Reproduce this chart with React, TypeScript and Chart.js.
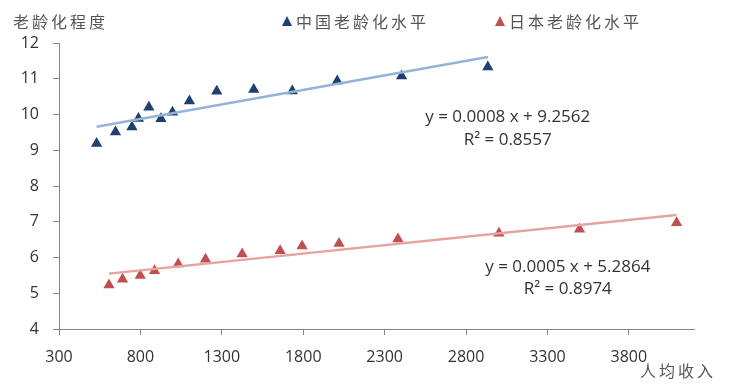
import React, { useEffect, useRef } from "react";
import { Chart, registerables } from "chart.js";

Chart.register(...registerables);

const chinaIncome = [531, 647, 748, 788, 852, 926, 997, 1101, 1269, 1496, 1733, 2009, 2404, 2934];
const chinaAging = [9.19, 9.51, 9.65, 9.89, 10.2, 9.88, 10.06, 10.38, 10.65, 10.7, 10.66, 10.94, 11.08, 11.33];
const japanIncome = [607, 690, 799, 887, 1032, 1200, 1425, 1658, 1793, 2020, 2382, 3002, 3497, 4093];
const japanAging = [5.23, 5.39, 5.5, 5.63, 5.82, 5.95, 6.1, 6.19, 6.32, 6.39, 6.52, 6.68, 6.79, 6.97];

const xTickValues = [300, 800, 1300, 1800, 2300, 2800, 3300, 3800];
const yTickValues = [4, 5, 6, 7, 8, 9, 10, 11, 12];

const seriesNames = ["中国老龄化水平", "日本老龄化水平"];
const chinaEquation = ["y = 0.0008 x + 9.2562", "R² = 0.8557"];
const japanEquation = ["y = 0.0005 x + 5.2864", "R² = 0.8974"];
const yTitle = "老龄化程度";
const xTitle = "人均收入";

function fit(xs: number[], ys: number[]) {
  const n = xs.length;
  const mx = xs.reduce((a, b) => a + b, 0) / n;
  const my = ys.reduce((a, b) => a + b, 0) / n;
  let sxy = 0, sxx = 0;
  for (let i = 0; i < n; i++) {
    sxy += (xs[i] - mx) * (ys[i] - my);
    sxx += (xs[i] - mx) * (xs[i] - mx);
  }
  const b = sxy / sxx;
  const a = my - b * mx;
  const x0 = Math.min(...xs), x1 = Math.max(...xs);
  return [{ x: x0, y: a + b * x0 }, { x: x1, y: a + b * x1 }];
}

const CN_COLOR = "#1F3F6E";
const JP_COLOR = "#C0504D";
const CN_LINE = "#95B3D7";
const JP_LINE = "#E6A3A2";
const CJK = '"Noto Sans CJK SC", sans-serif';

const textPlugin = {
  id: "texts",
  afterDraw(chart: any) {
    const ctx = chart.ctx;
    const xs = chart.scales.x;
    const ys = chart.scales.y;
    ctx.save();
    ctx.fillStyle = "#555555";
    ctx.font = `16px ${CJK}`;
    ctx.textBaseline = "middle";
    ctx.textAlign = "left";
    (ctx as any).letterSpacing = "3px";
    ctx.fillText(yTitle, 13, 22);
    ctx.fillText(xTitle, 640, 371);
    const items = [
      { x: 282, color: CN_COLOR, label: seriesNames[0] },
      { x: 495, color: JP_COLOR, label: seriesNames[1] },
    ];
    items.forEach((it) => {
      ctx.fillStyle = it.color;
      ctx.beginPath();
      ctx.moveTo(it.x, 26);
      ctx.lineTo(it.x + 10, 26);
      ctx.lineTo(it.x + 5, 16);
      ctx.closePath();
      ctx.fill();
      ctx.fillStyle = "#555555";
      ctx.fillText(it.label, it.x + 14, 22);
    });
    (ctx as any).letterSpacing = "0px";
    ctx.fillStyle = "#333333";
    ctx.font = '17px "Open Sans", sans-serif';
    ctx.textAlign = "center";
    ctx.fillText(chinaEquation[0], xs.getPixelForValue(3056), ys.getPixelForValue(9.92));
    ctx.fillText(chinaEquation[1], xs.getPixelForValue(3056), ys.getPixelForValue(9.28));
    ctx.fillText(japanEquation[0], xs.getPixelForValue(3425), ys.getPixelForValue(5.72));
    ctx.fillText(japanEquation[1], xs.getPixelForValue(3425), ys.getPixelForValue(5.11));
    ctx.restore();
  },
};

export default function App() {
  const ref = useRef<HTMLCanvasElement | null>(null);
  useEffect(() => {
    document.body.style.margin = "0";
    const chart = new Chart(ref.current as HTMLCanvasElement, {
      type: "scatter",
      data: {
        datasets: [
          {
            type: "line",
            label: "cn-trend",
            data: fit(chinaIncome, chinaAging),
            borderColor: CN_LINE,
            borderWidth: 2.5,
            pointRadius: 0,
            fill: false,
          },
          {
            type: "line",
            label: "jp-trend",
            data: fit(japanIncome, japanAging),
            borderColor: JP_LINE,
            borderWidth: 2.5,
            pointRadius: 0,
            fill: false,
          },
          {
            label: seriesNames[0],
            data: chinaIncome.map((x, i) => ({ x, y: chinaAging[i] })),
            pointStyle: "triangle",
            pointRadius: 6.5,
            backgroundColor: CN_COLOR,
            borderColor: CN_COLOR,
            borderWidth: 0,
          },
          {
            label: seriesNames[1],
            data: japanIncome.map((x, i) => ({ x, y: japanAging[i] })),
            pointStyle: "triangle",
            pointRadius: 6.5,
            backgroundColor: JP_COLOR,
            borderColor: JP_COLOR,
            borderWidth: 0,
          },
        ],
      } as any,
      options: {
        animation: false,
        responsive: false,
        layout: { padding: { top: 43, right: 55, left: 0, bottom: 0 } },
        plugins: { legend: { display: false }, tooltip: { enabled: false } },
        scales: {
          x: {
            type: "linear",
            min: 300,
            max: 4200,
            afterBuildTicks: (s: any) => {
              s.ticks = xTickValues.map((v) => ({ value: v }));
            },
            afterFit: (s: any) => {
              s.height = 55;
            },
            ticks: {
              padding: 13,
              color: "#333333",
              font: { family: '"Open Sans", sans-serif', size: 16 },
              callback: (v: any) => String(v),
            },
            grid: { display: true, drawOnChartArea: false, drawTicks: true, tickLength: 6, color: "#868686" },
            border: { display: true, color: "#868686", width: 1 },
          },
          y: {
            type: "linear",
            min: 4,
            max: 12,
            afterBuildTicks: (s: any) => {
              s.ticks = yTickValues.map((v) => ({ value: v }));
            },
            afterFit: (s: any) => {
              s.width = 59;
            },
            ticks: {
              padding: 14,
              color: "#333333",
              font: { family: '"Open Sans", sans-serif', size: 16 },
              callback: (v: any) => String(v),
            },
            grid: { display: true, drawOnChartArea: false, drawTicks: true, tickLength: 6, color: "#868686" },
            border: { display: true, color: "#868686", width: 1 },
          },
        },
      } as any,
      plugins: [textPlugin],
    });
    return () => chart.destroy();
  }, []);
  return (
    <div style={{ width: 749, height: 384 }}>
      <canvas ref={ref} width={749} height={384} style={{ display: "block" }} />
    </div>
  );
}
